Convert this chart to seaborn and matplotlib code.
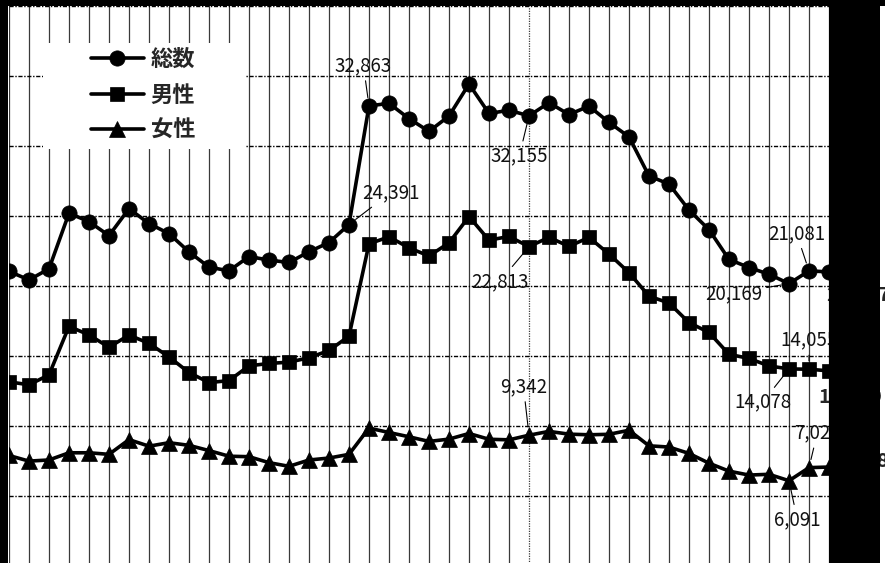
import numpy as np
import pandas as pd
import seaborn as sns
import matplotlib.pyplot as plt
from matplotlib.patches import Rectangle

# 自殺者数の推移 (1980-2021)
years = list(range(1980, 2022))
total = [21048, 20434, 21228, 25202, 24596, 23599, 25524, 24460, 23742, 22436,
         21346, 21084, 22104, 21851, 21679, 22445, 23104, 24391, 32863, 33048,
         31957, 31042, 32143, 34427, 32325, 32552, 32155, 33093, 32249, 32845,
         31690, 30651, 27858, 27283, 25427, 24025, 21897, 21321, 20840, 20169,
         21081, 21007]
male = [13155, 12942, 13654, 17116, 16508, 15624, 16497, 15902, 14934, 13818,
        13102, 13242, 14296, 14468, 14560, 14874, 15393, 16416, 23013, 23512,
        22727, 22144, 23080, 24963, 23272, 23540, 22813, 23478, 22831, 23472,
        22283, 20955, 19273, 18787, 17386, 16681, 15121, 14826, 14290, 14078,
        14055, 13939]
female = [7893, 7492, 7574, 8086, 8088, 7975, 9027, 8558, 8808, 8618,
          8244, 7842, 7808, 7383, 7119, 7571, 7711, 7975, 9850, 9536,
          9230, 8898, 9063, 9464, 9053, 9012, 9342, 9615, 9418, 9373,
          9407, 9696, 8585, 8496, 8041, 7344, 6776, 6495, 6550, 6091,
          7026, 7068]
series_names = ['総数', '男性', '女性']

df = pd.DataFrame({'年': years, '総数': total, '男性': male, '女性': female})

sns.set_style('white')
plt.rcParams['font.family'] = ['Noto Sans CJK JP', 'DejaVu Sans']

W, H = 885, 563
fig = plt.figure(figsize=(W / 100, H / 100), dpi=100)
fig.patch.set_facecolor('white')

# axes placed so the plot runs past the bottom edge (cropped look)
ax = fig.add_axes([9 / W, (H - 566) / H, 820 / W, 560 / H])

markers = {'総数': 'o', '男性': 's', '女性': '^'}
msize = {'総数': 11, '男性': 10, '女性': 11}
for name in series_names:
    sns.lineplot(data=df, x='年', y=name, ax=ax, color='black', linewidth=2.6,
                 marker=markers[name], markersize=msize[name],
                 markeredgecolor='black', markeredgewidth=0.5, label=name,
                 zorder=3)

ax.set_xlim(1980, 2021)
ax.set_ylim(0, 40000)
ax.set_xticks(years)
ax.set_yticks(np.arange(0, 40001, 5000))
ax.tick_params(length=0, labelbottom=False, labelleft=False)
ax.set_xlabel('')
ax.set_ylabel('')
for s in ax.spines.values():
    s.set_visible(False)

ax.set_axisbelow(True)
ax.grid(axis='x', color='#3a3a3a', linewidth=0.9)
ax.grid(axis='y', color='black', linewidth=1.0, linestyle=(0, (3, 1.2, 1, 1.2)))
ax.get_xgridlines()[years.index(2006)].set_linestyle((0, (1, 1)))

# legend with a plain white box behind it
ax.add_patch(Rectangle((43 / W, 1 - 149 / H), 202 / W, 106 / H,
                       transform=fig.transFigure, facecolor='white',
                       edgecolor='none', zorder=1.5))
handles, labels = ax.get_legend_handles_labels()
ax.legend(handles, labels, loc='center', bbox_to_anchor=(143 / W, 1 - 95 / H),
          bbox_transform=fig.transFigure, frameon=False,
          prop=dict(weight='bold', size=16), handlelength=2.4,
          handletextpad=0.3, labelspacing=0.55)

# value labels with leader lines: (series, year, dx pt, dy pt)
notes = [
    (total, 1998, -4, 29),
    (total, 2006, -7, -29),
    (total, 1997, 30, 23),
    (male, 2006, -21, -25),
    (female, 2006, -4, 35),
    (total, 2020, -9, 27),
    (total, 2019, -40, -7),
    (male, 2020, 0, 21),
    (male, 2019, -19, -24),
    (female, 2020, 6, 25),
    (female, 2019, 6, -28),
]
for ser, yr, dx, dy in notes:
    v = ser[years.index(yr)]
    ax.annotate(f'{v:,}', xy=(yr, v), xytext=(dx, dy),
                textcoords='offset points', ha='center', va='center',
                fontsize=13.5, color='#111111', annotation_clip=False,
                arrowprops=dict(arrowstyle='-', color='black', lw=0.8,
                                shrinkA=1, shrinkB=6), zorder=4)

# bold end labels for the last year (mostly hidden behind the black band)
ends = [(total, -2, -17), (male, -8, -19), (female, 5, 4)]
for ser, dx, dy in ends:
    v = ser[-1]
    ax.annotate(f'{v:,}', xy=(years[-1], v), xytext=(dx, dy),
                textcoords='offset points', ha='left', va='center',
                fontsize=14, fontweight='bold', annotation_clip=False, zorder=4)

# black bands of the cropped screenshot
for (x0, y0, w, h) in [(0, 0, 8, H), (0, 0, W, 6), (829, 0, 51, H)]:
    fig.add_artist(Rectangle((x0 / W, 1 - (y0 + h) / H), w / W, h / H,
                             transform=fig.transFigure, facecolor='black',
                             edgecolor='none', zorder=10))

fig.savefig('out.png', dpi=100, facecolor='white')
